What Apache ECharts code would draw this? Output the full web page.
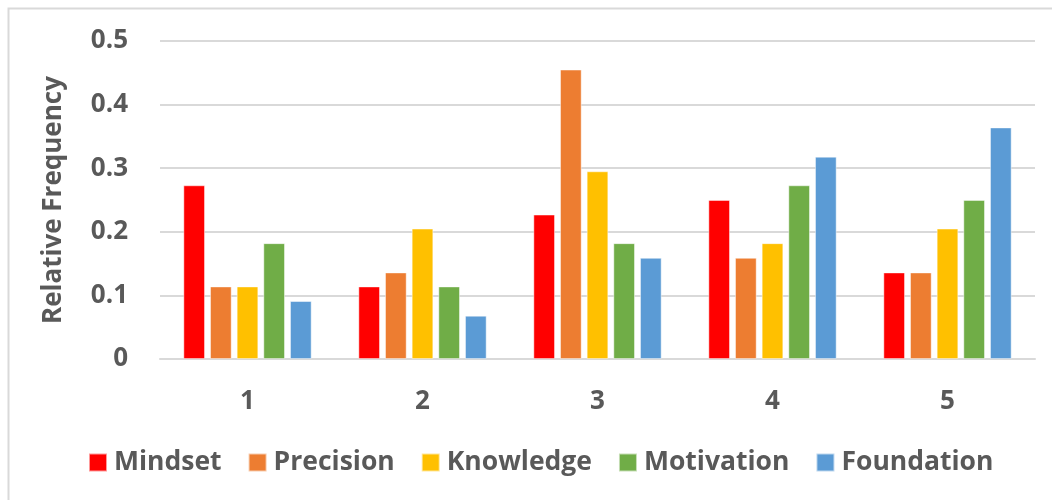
<!DOCTYPE html>
<html>
<head>
<meta charset="utf-8">
<style>
  html, body { margin: 0; padding: 0; background: #ffffff; }
  #chart { width: 1052px; height: 500px; }
</style>
<script src="https://cdn.jsdelivr.net/npm/echarts@6/dist/echarts.min.js"></script>
</head>
<body>
<div id="chart"></div>
<script>
// Relative frequency of each theme per rating level
const categories = ['1', '2', '3', '4', '5'];
const mindset    = [0.273, 0.114, 0.227, 0.250, 0.136];
const precision  = [0.114, 0.136, 0.455, 0.159, 0.136];
const knowledge  = [0.114, 0.205, 0.295, 0.182, 0.205];
const motivation = [0.182, 0.114, 0.182, 0.273, 0.250];
const foundation = [0.091, 0.068, 0.159, 0.318, 0.364];
const yTicks = ['0', '0.1', '0.2', '0.3', '0.4', '0.5'];

const seriesDefs = [
  { name: 'Mindset',    data: mindset,    color: '#ff0000' },
  { name: 'Precision',  data: precision,  color: '#ed7d31' },
  { name: 'Knowledge',  data: knowledge,  color: '#ffc000' },
  { name: 'Motivation', data: motivation, color: '#70ad47' },
  { name: 'Foundation', data: foundation, color: '#5b9bd5' }
];

const FONT = '"Open Sans", sans-serif';
const TEXT = '#595959';

const chart = echarts.init(document.getElementById('chart'), null, { renderer: 'canvas' });
chart.setOption({
  animation: false,
  backgroundColor: '#ffffff',
  graphic: [{
    type: 'rect',
    z: 0,
    shape: { x: 8.5, y: 8.5, width: 1100, height: 600 },
    style: { fill: 'none', stroke: '#d9d9d9', lineWidth: 2 }
  }],
  grid: { left: 160, right: 17, top: 41, bottom: 141, containLabel: false },
  legend: {
    top: 449,
    left: 88,
    padding: 0,
    itemWidth: 18,
    itemHeight: 18,
    itemGap: 26,
    icon: 'rect',
    textStyle: { fontFamily: FONT, fontWeight: 'bold', fontSize: 26.5, color: TEXT, padding: [0, 0, 0, 2] },
    data: seriesDefs.map(s => s.name)
  },
  xAxis: {
    type: 'category',
    data: categories,
    axisTick: { show: false },
    axisLine: { show: true, lineStyle: { color: '#d9d9d9', width: 2 } },
    axisLabel: { fontFamily: FONT, fontWeight: 'bold', fontSize: 26, color: TEXT, margin: 30 }
  },
  yAxis: {
    type: 'value',
    min: 0,
    max: 0.5,
    interval: 0.1,
    name: 'Relative Frequency',
    nameLocation: 'middle',
    nameGap: 93,
    nameTextStyle: { fontFamily: FONT, fontWeight: 'bold', fontSize: 26, color: TEXT },
    axisLine: { show: false },
    axisTick: { show: false },
    splitLine: { lineStyle: { color: '#d9d9d9', width: 2 } },
    axisLabel: {
      fontFamily: FONT, fontWeight: 'bold', fontSize: 26, color: TEXT, margin: 32,
      formatter: (v) => yTicks[Math.round(v * 10)]
    }
  },
  series: seriesDefs.map(s => ({
    name: s.name,
    type: 'bar',
    data: s.data,
    barWidth: 21.5,
    barGap: '24%',
    itemStyle: { color: s.color, borderColor: 'rgba(255,255,255,0.6)', borderWidth: 0.8 }
  }))
});
</script>
</body>
</html>
